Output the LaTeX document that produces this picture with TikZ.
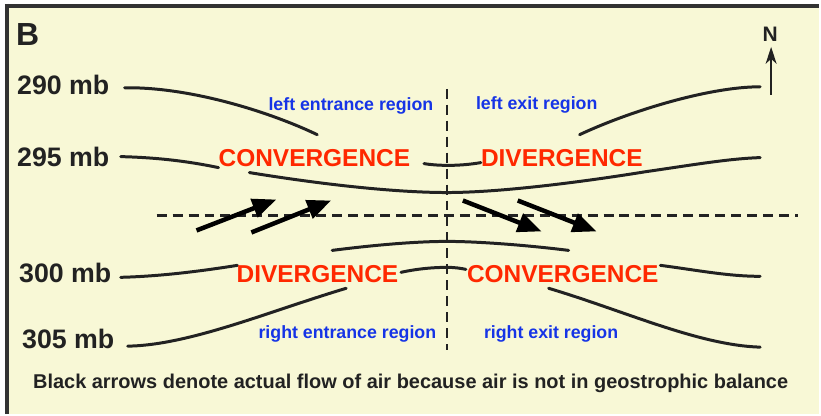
\documentclass[tikz,border=0pt]{standalone}
\usepackage{fontspec}
\setmainfont{Liberation Sans}
\usetikzlibrary{arrows.meta}

\definecolor{paper}{RGB}{248,248,214}
\definecolor{frame}{RGB}{50,50,50}
\definecolor{ink}{RGB}{34,34,34}
\definecolor{zonered}{RGB}{255,40,0}
\definecolor{regblue}{RGB}{22,52,230}

\tikzset{
  lvl/.style={font=\fontsize{26.8}{30}\selectfont\bfseries, text=ink, inner sep=0pt, anchor=base west},
  zone/.style={font=\fontsize{24.5}{28}\selectfont\bfseries, text=zonered, inner sep=0pt, anchor=base west},
  reg/.style={font=\fontsize{17.8}{20}\selectfont\bfseries, text=regblue, inner sep=0pt, anchor=base west},
  contour/.style={line width=3pt, draw=ink, line cap=round},
  axisline/.style={line width=2.2pt, draw=ink, dash pattern=on 10pt off 6pt},
  flow/.style={line width=4.5pt, draw=black, -{Triangle[length=24pt, width=19pt]}}
}

\begin{document}
\begin{tikzpicture}[x=1pt, y=-1pt]

    \fill [white] (0, 0) rectangle (821, 415);
    \fill [paper] (5, 5) rectangle (821, 415);
    \draw [frame, line width=4pt] (5, 6) -- (821, 6);
    \draw [frame, line width=4pt] (7.5, 4) -- (7.5, 415);
    \useasboundingbox (0, 0) rectangle (821, 415);

    % axes of the jet streak
    \coordinate (Vt) at (448,  89);
    \coordinate (Vb) at (448, 351);
    \coordinate (Hl) at (157, 216);
    \coordinate (Hr) at (800, 216);
    \draw [axisline] (Vt) -- (Vb);
    \draw [axisline] (Hl) -- (Hr);

    % contours
    \draw [contour] (125, 88) .. controls (190, 87) and (270, 112) .. (318, 135);
    \draw [contour] (581, 135) .. controls (630, 112) and (710, 87) .. (762, 87);
    \draw [contour] (425, 164) .. controls (440, 166.5) and (462, 166.5) .. (482, 163);

    \draw [contour] (121, 157) .. controls (160, 158) and (190, 162) .. (219, 168);
    \draw [contour] (250, 173) .. controls (330, 186) and (400, 193) .. (448, 193)
                    .. controls (500, 193) and (580, 183) .. (648, 172)
                    .. controls (690, 166) and (730, 159) .. (762, 158);

    \draw [contour] (333, 251) .. controls (380, 245) and (420, 242) .. (448, 242)
                    .. controls (480, 242) and (530, 246) .. (570, 251);

    \draw [contour] (121, 278) .. controls (160, 277) and (200, 272) .. (238, 266);
    \draw [contour] (402, 273) .. controls (420, 269) and (437, 268) .. (448, 268)
                    .. controls (456, 268) and (462, 269) .. (467, 270);
    \draw [contour] (662, 266) .. controls (700, 271) and (730, 277) .. (762, 277);

    \draw [contour] (128, 347) .. controls (190, 346) and (270, 312) .. (347, 289);
    \draw [contour] (550, 289) .. controls (627, 312) and (700, 346) .. (762, 348);

    % ageostrophic flow
    \coordinate (e1) at (197, 231);
    \coordinate (e1') at (277, 200);
    \coordinate (e2) at (252, 233);
    \coordinate (e2') at (332, 201);
    \coordinate (x1) at (464, 201);
    \coordinate (x1') at (543, 232);
    \coordinate (x2) at (519, 201);
    \coordinate (x2') at (598, 232);
    \draw [flow] (e1) -- (e1');
    \draw [flow] (e2) -- (e2');
    \draw [flow] (x1) -- (x1');
    \draw [flow] (x2) -- (x2');

    % north arrow
    \coordinate (Nb) at (773, 95);
    \coordinate (Nt) at (773, 47);
    \draw [ink, line width=1.5pt, -{Stealth[length=17pt, width=11pt, inset=5pt]}] (Nb) -- (Nt);
    \node [font=\fontsize{21}{24}\selectfont\bfseries, text=ink, inner sep=0pt, anchor=base] (north) at (772, 42) {N};

    \node [font=\fontsize{32}{36}\selectfont\bfseries, text=ink, inner sep=0pt, anchor=base west] (panel) at (16, 46) {B};

    \node [lvl] (p290) at (17, 95) {290 mb};
    \node [lvl] (p295) at (17, 166.5) {295 mb};
    \node [lvl] (p300) at (19, 283) {300 mb};
    \node [lvl] (p305) at (22, 349) {305 mb};

    \node [zone] (conUp) at (219, 167) {CONVERGENCE};
    \node [zone] (divUp) at (482, 167) {DIVERGENCE};
    \node [zone] (divLo) at (237, 283) {DIVERGENCE};
    \node [zone] (conLo) at (468, 283) {CONVERGENCE};

    \node [reg] (lent) at (269, 111) {left entrance region};
    \node [reg] (lex) at (477, 110) {left exit region};
    \node [reg] (rent) at (259, 339) {right entrance region};
    \node [reg] (rex) at (485, 339) {right exit region};

    \node [font=\fontsize{20}{24}\selectfont\bfseries, text=ink, inner sep=0pt, anchor=base west] (note) at (33, 389)
      {Black arrows denote actual flow of air because air is not in geostrophic balance};

\end{tikzpicture}
\end{document}
